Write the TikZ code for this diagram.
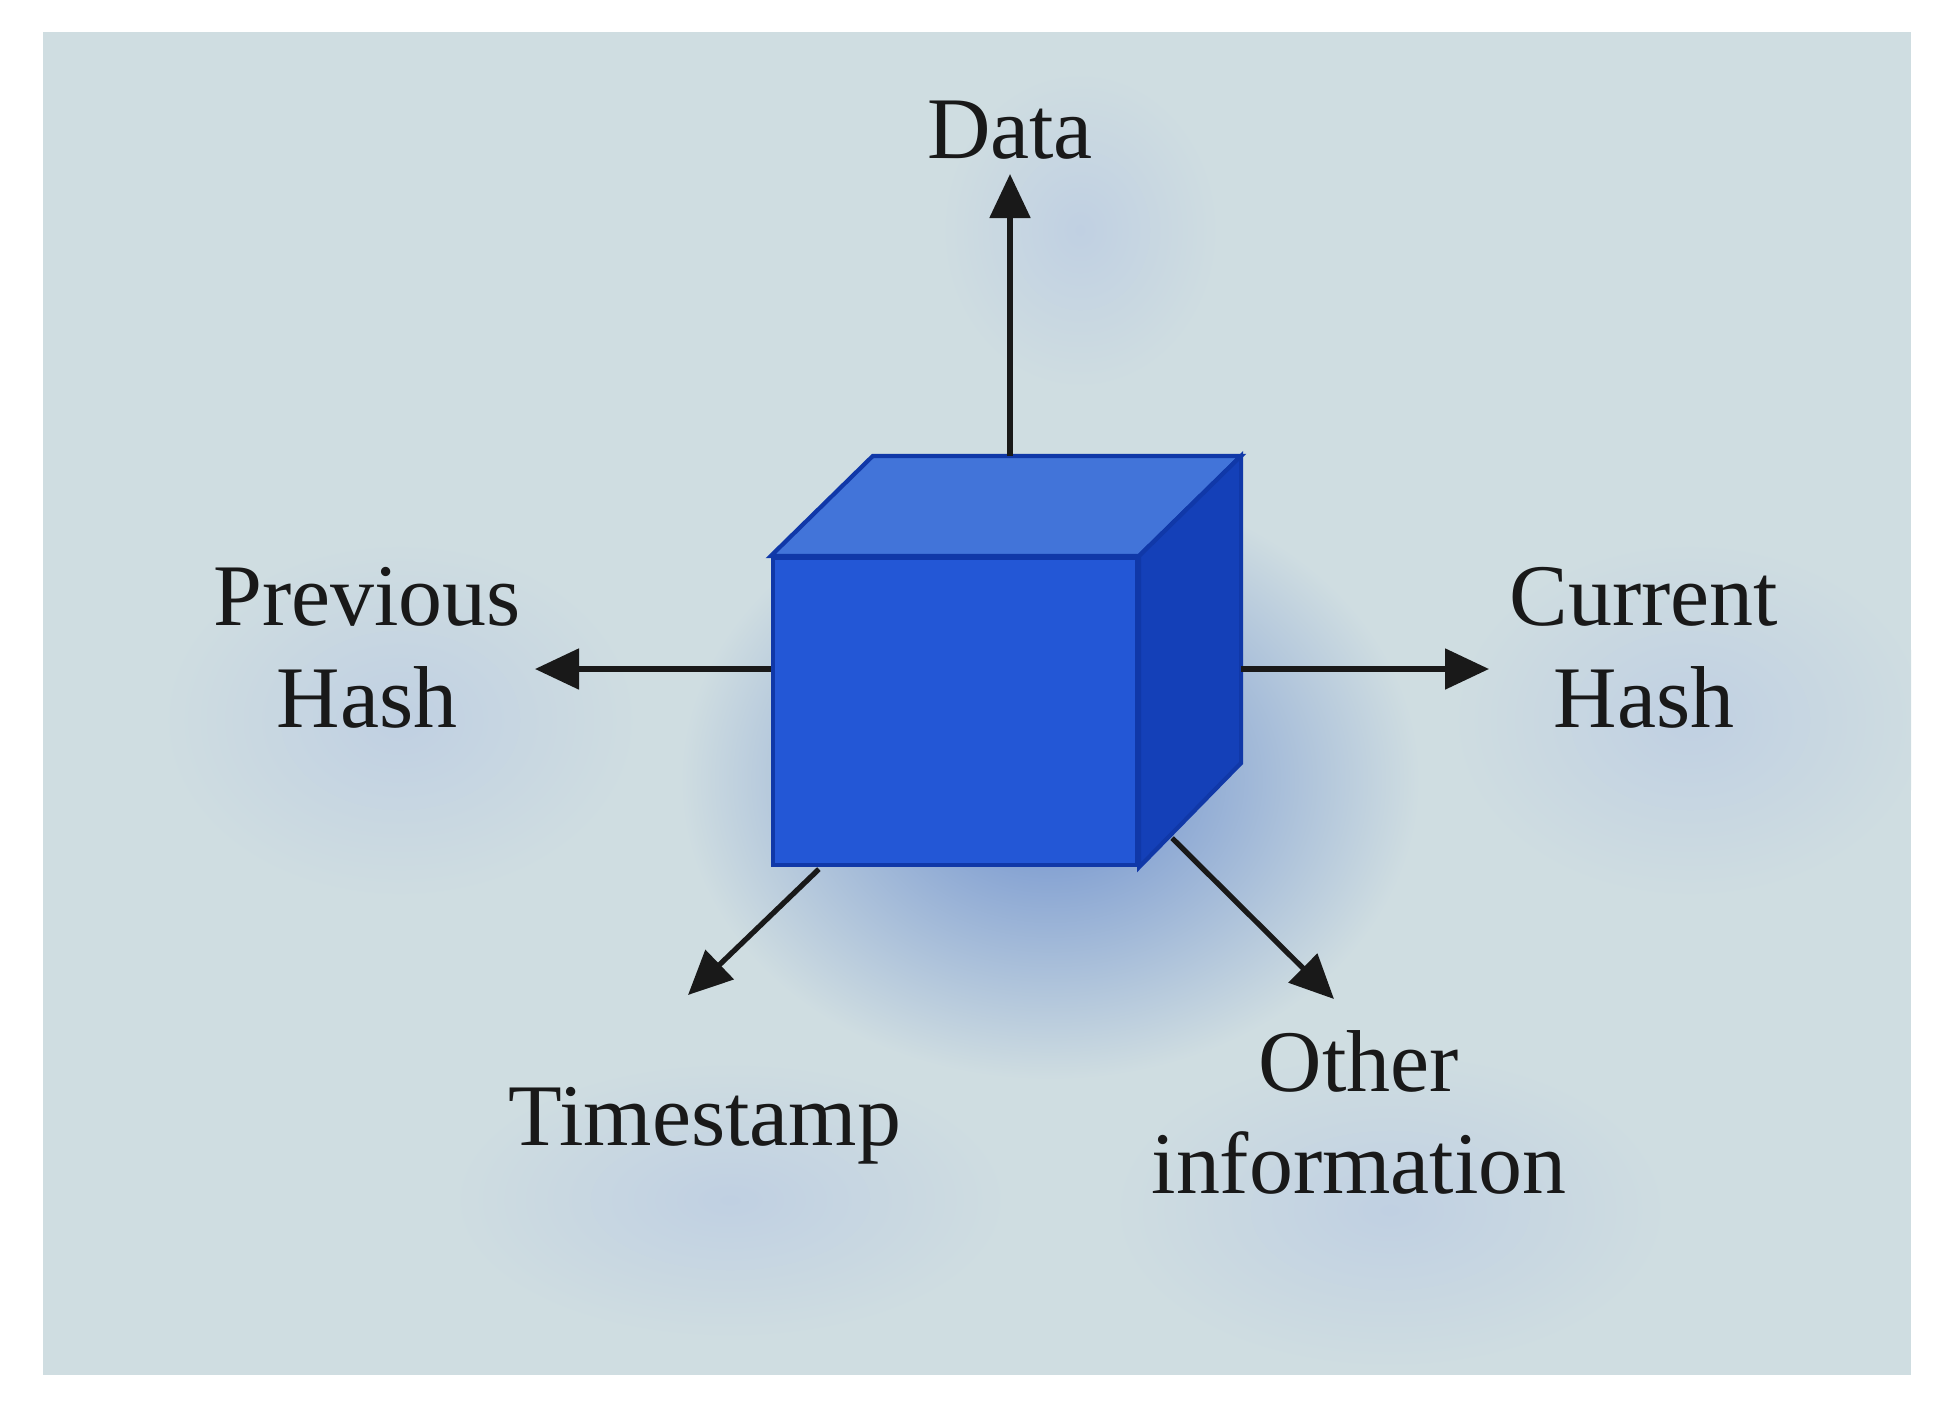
\documentclass[tikz,border=0pt]{standalone}
\usepackage{fontspec}
\setmainfont{Liberation Serif}
\usetikzlibrary{arrows.meta,positioning,calc}
\definecolor{bgpanel}{RGB}{207,221,225}
\definecolor{cubefront}{RGB}{35,87,214}
\definecolor{cubetop}{RGB}{66,116,217}
\definecolor{cubeside}{RGB}{20,64,184}
\definecolor{cubeedge}{RGB}{16,56,168}
\definecolor{glowdeep}{RGB}{105,140,205}
\definecolor{glowsoft}{RGB}{192,208,226}

\begin{document}
\begin{tikzpicture}[x=1cm,y=1cm]
  \tikzset{
    lbl/.style={font=\fontsize{25}{29}\selectfont, text=black!90, align=center, inner sep=0pt, anchor=base},
    arr/.style={-{Triangle[length=4.4mm,width=4mm]}, black!90, line width=1.5pt},
    face/.style={draw=cubeedge, line width=1.2pt, line join=miter},
    glow/.style={inner color=#1, outer color=bgpanel}
  }

  \useasboundingbox (0,0) rectangle (19.51,-14.17);
  \fill[bgpanel] (0.43,-0.32) rectangle (19.11,-13.75);

  % - soft glows ---
  \begin{scope}
    \clip (0.43,-0.32) rectangle (19.11,-13.75);
    \shade[glow=glowdeep] (10.5,-7.8) ellipse (3.7 and 3.0);
    \shade[glow=glowsoft] (10.8,-2.3) ellipse (1.4 and 1.6);
    \shade[glow=glowsoft] (4.0,-7.2) ellipse (2.4 and 1.8);
    \shade[glow=glowsoft] (16.9,-7.2) ellipse (2.4 and 1.8);
    \shade[glow=glowsoft] (7.3,-12.0) ellipse (2.8 and 1.4);
    \shade[glow=glowsoft] (13.9,-12.1) ellipse (2.8 and 1.6);
  \end{scope}

  % - Block (cube) ---
  \node[face, fill=cubefront, minimum width=3.64cm, minimum height=3.07cm, inner sep=0pt] (block) at (9.55,-7.115) {};
  \fill[cubetop, face] (block.north west) -- ++(1.02,1.0) -- ($(block.north east)+(1.02,1.0)$) -- (block.north east) -- cycle;
  \fill[cubeside, face] (block.north east) -- ++(1.02,1.0) -- ++(0,-3.07) -- (block.south east) -- cycle;

  \coordinate (blocktop) at ($(block.north)+(0.55,1.0)$);
  \coordinate (blockleft) at ($(block.west)+(0,0.425)$);
  \coordinate (blockright) at ($(block.east)+(1.02,0.425)$);
  \coordinate (blockbl) at ($(block.south west)+(0.48,-0.02)$);
  \coordinate (blockbr) at ($(block.south east)+(0.33,0.29)$);

  % - Labels ---
  \node[lbl] (data) at (10.10,-1.58) {Data};
  \node[lbl] (prevhash) at (3.67,-7.27) {Previous\\Hash};
  \node[lbl] (curhash) at (16.44,-7.27) {Current\\Hash};
  \node[lbl] (tstamp) at (7.05,-11.45) {Timestamp};
  \node[lbl] (otherinfo) at (13.59,-11.93) {Other\\information};

  % - Arrow tips ---
  \coordinate (datatip) at (10.10,-1.74);
  \coordinate (prevtip) at (5.35,-6.69);
  \coordinate (curtip) at (14.89,-6.69);
  \coordinate (tstip) at (6.88,-9.95);
  \coordinate (othertip) at (13.34,-9.99);

  % - Arrows ---
  \draw[arr] (blocktop) -- (datatip);
  \draw[arr] (blockleft) -- (prevtip);
  \draw[arr] (blockright) -- (curtip);
  \draw[arr] (blockbl) -- (tstip);
  \draw[arr] (blockbr) -- (othertip);

\end{tikzpicture}
\end{document}
